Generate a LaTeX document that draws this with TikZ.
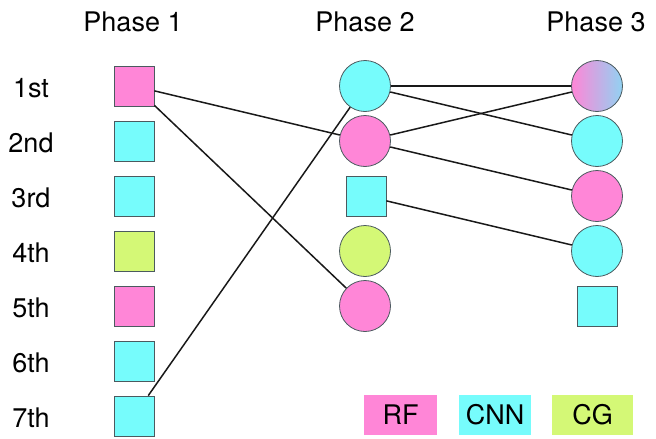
\documentclass[tikz,border=0pt]{standalone}
\usepackage{fontspec}
\setmainfont{TeX Gyre Heros}
\definecolor{rfpink}{RGB}{255,134,215}
\definecolor{cnncyan}{RGB}{118,252,252}
\definecolor{cggreen}{RGB}{212,248,118}
\definecolor{mixblue}{RGB}{145,210,242}
\definecolor{rim}{RGB}{75,90,95}
\tikzset{
  model/.style={draw=rim,line width=0.8pt,inner sep=0pt},
  sqmodel/.style={model,rectangle,minimum size=40pt},
  circmodel/.style={model,circle,minimum size=51pt},
  link/.style={line width=1.5pt,black!90},
  legendbox/.style={inner sep=0pt,minimum height=40pt}
}

\begin{document}
\begin{tikzpicture}[x=1pt,y=-1pt,font=\fontsize{27}{32}\selectfont]
        \useasboundingbox (0,0) rectangle (656,439);
        % headers
        \node[anchor=base] (phase1) at (133,31) {Phase 1};
        \node[anchor=base] (phase2) at (365,31) {Phase 2};
        \node[anchor=base] (phase3) at (596,31) {Phase 3};
        % rows and phase 1
        \foreach \i/\rowname/\col in {1/1st/rfpink,2/2nd/cnncyan,3/3rd/cnncyan,4/4th/cggreen,5/5th/rfpink,6/6th/cnncyan,7/7th/cnncyan} {
          \node[anchor=base] (row\i) at (31,{42+55*\i}) {\rowname};
          \node[sqmodel,fill=\col] (p1-\i) at (134,{31+55*\i}) {};
        }
        % phase 2
        \node[circmodel,fill=cnncyan] (p2-1) at (365,86) {};
        \node[circmodel,fill=rfpink] (p2-2) at (365,141) {};
        \node[sqmodel,fill=cnncyan] (p2-3) at (366,196) {};
        \node[circmodel,fill=cggreen] (p2-4) at (365,251) {};
        \node[circmodel,fill=rfpink] (p2-5) at (365,306) {};
        % phase 3
        \node[circmodel,left color=rfpink,right color=mixblue] (p3-1) at (597,86) {};
        \node[circmodel,fill=cnncyan] (p3-2) at (597,141) {};
        \node[circmodel,fill=rfpink] (p3-3) at (597,196) {};
        \node[circmodel,fill=cnncyan] (p3-4) at (597,251) {};
        \node[sqmodel,fill=cnncyan] (p3-5) at (597,306) {};
        % links
        \draw[link] (p1-1) -- (p2-2);
        \draw[link] (p1-1) -- (p2-5);
        \draw[link] (p1-7) -- (p2-1);
        \draw[link] (p2-1) -- (p3-1);
        \draw[link] (p2-1) -- (p3-2);
        \draw[link] (p2-2) -- (p3-1);
        \draw[link] (p2-2) -- (p3-3);
        \draw[link] (p2-3) -- (p3-4);
        % legend
        \node[legendbox,fill=rfpink,minimum width=73pt] (rf) at (400.5,415) {RF};
        \node[legendbox,fill=cnncyan,minimum width=72pt] (cnn) at (495,415) {CNN};
        \node[legendbox,fill=cggreen,minimum width=81pt] (cg) at (592.5,415) {CG};
\end{tikzpicture}
\end{document}
